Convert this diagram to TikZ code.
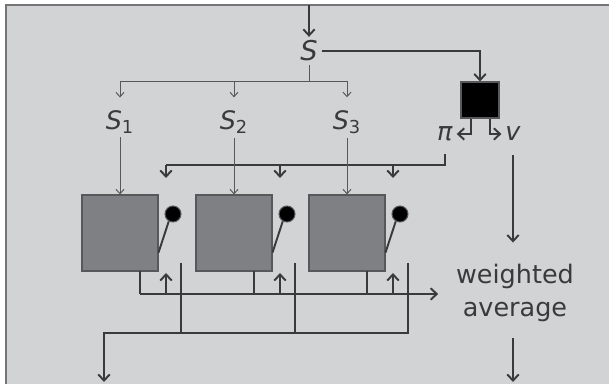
\documentclass[tikz,border=0pt]{standalone}
\usepackage{fontspec}
\setmainfont{DejaVu Sans}
\usetikzlibrary{arrows.meta,positioning,calc}
\definecolor{panel}{RGB}{210,211,213}
\definecolor{ink}{RGB}{58,58,60}
\definecolor{netfill}{RGB}{127,128,131}
\definecolor{netedge}{RGB}{88,88,90}

\begin{document}
\begin{tikzpicture}[x=0.02cm,y=-0.02cm,font=\fontsize{14.5}{19}\selectfont,text=ink]
\tikzset{
  thk/.style={draw=ink,line width=1.1pt,-{Straight Barb[length=3.5pt,width=6.5pt]}},
  thn/.style={draw=ink!85,line width=0.55pt,-{Straight Barb[length=2.5pt,width=4.5pt]}},
  lbl/.style={inner sep=2pt},
  net/.style={draw=netedge,fill=netfill,line width=0.6pt,minimum width=1.52cm,minimum height=1.52cm,inner sep=0pt},
  knob/.style={circle,draw=netedge,fill=black,line width=0.6pt,minimum size=0.32cm,inner sep=0pt},
  head/.style={draw=netedge,fill=black,line width=0.6pt,minimum width=0.76cm,minimum height=0.72cm,inner sep=0pt}
}
\useasboundingbox (0,0) rectangle (609,384);
% panel
\fill[panel] (6,5) rectangle (609,384);
\draw[ink!70,line width=0.9pt] (6,384) -- (6,5) -- (609,5);

% state and heads
\coordinate (top) at (309,5);
\node[lbl,font=\fontsize{15.5}{19}\selectfont] (S) at (309,51) {\textit{S}};
\node[head] (pv) at (480,100) {};
\node[lbl] (pi) at (445,134) {\textit{π}};
\node[lbl] (v) at (513,134) {\textit{v}};
\node[lbl,align=center] (wavg) at (515,293) {weighted\\average};
\coordinate (split) at (309,81);
\coordinate (pibus) at (445,165);
\coordinate (bus) at (140,294);
\coordinate (gbus) at (409,333);
\coordinate (out) at (104,382);
\coordinate (vout) at (513,382);

\draw[thk] (top) -- (S);
\draw[thk] (S.east) -| (pv.north);
\draw[thk] ($(pv.south)+(-9,0)$) |- (pi.east);
\draw[thk] ($(pv.south)+(10,0)$) |- (v.west);
\draw[thk,shorten <=6pt,shorten >=10pt] (v.south) -- (wavg.north -| v);
\draw[thk,shorten <=7pt] (wavg.south -| vout) -- (vout);

% split of the state
\draw[ink!85,line width=0.55pt] (S.south) -- (split);
\draw[ink!85,line width=0.55pt] (split -| 120,0) -- (split -| 347,0);

% policies
\draw[thk,-,shorten <=5pt] (pi.south) -- (pibus) -- (pibus -| 166,0);
\foreach \i/\x in {1/120,2/234,3/347}{
  \node[lbl] (S\i) at (\x,122) {\textit{S}\textsubscript{\i}};
  \node[net] (b\i) at (\x,233) {};
  \node[knob] (c\i) at (\x+53,214) {};
  \coordinate (in\i) at (\x+46,178);
  \coordinate (up\i) at (\x+46,273);
  \coordinate (leg\i) at (\x+20,271);
  \coordinate (g\i) at (\x+61,263);
  \draw[thn] (split -| S\i) -- ($(S\i.north)+(0,-9)$);
  \draw[thn] (S\i.south) -- (b\i.north);
  \draw[thk] (in\i |- pibus) -- (in\i);
  \draw[ink,line width=1.1pt] (c\i.240) -- ($(b\i.south east)+(0,-19)$);
  \draw[ink,line width=1.1pt] (leg\i) -- (leg\i |- bus);
  \draw[thk] (up\i |- bus) -- (up\i);
  \draw[ink,line width=1.1pt] (g\i) -- (g\i |- gbus);
}

% outputs
\draw[thk,shorten >=8pt] (bus) -- (bus -| wavg.west);
\draw[thk] (gbus) -- (gbus -| out) -- (out);
\end{tikzpicture}
\end{document}
